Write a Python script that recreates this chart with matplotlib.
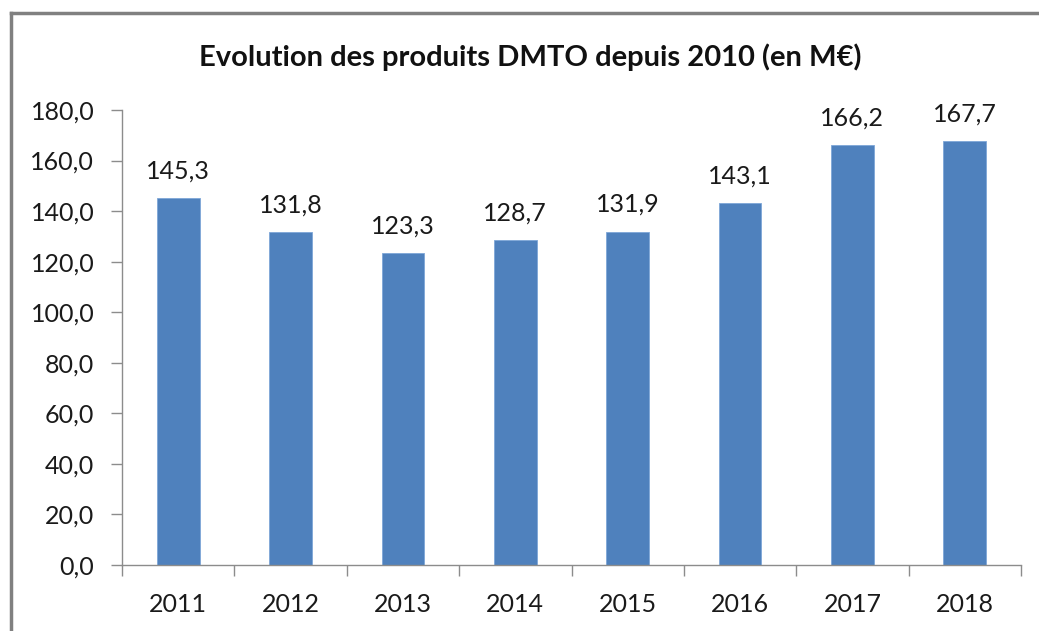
import matplotlib
matplotlib.use("Agg")
import matplotlib.pyplot as plt
from matplotlib.lines import Line2D

years = ["2011", "2012", "2013", "2014", "2015", "2016", "2017", "2018"]
values = [145.3, 131.8, 123.3, 128.7, 131.9, 143.1, 166.2, 167.7]
yticks = [0, 20, 40, 60, 80, 100, 120, 140, 160, 180]
title = "Evolution des produits DMTO depuis 2010 (en M€)"

def fr(v):
    return f"{v:.1f}".replace(".", ",")

plt.rcParams['font.family'] = ['Lato', 'DejaVu Sans']

fig = plt.figure(figsize=(10.39, 6.31), dpi=100)
ax = fig.add_axes([122/1039, 1-565/631, (1021-122)/1039, (565-110)/631])

x = list(range(len(years)))
ax.bar(x, values, width=0.38, color="#4F81BD", edgecolor="#7EA6D8", linewidth=0.6, zorder=2)

for xi, v in zip(x, values):
    ax.annotate(fr(v), (xi, v), xytext=(0, 19.5), textcoords="offset points",
                ha="center", va="center", fontsize=18, color="#1a1a1a")

ax.set_xlim(-0.5, len(years) - 0.5)
ax.set_ylim(0, 180)
ax.set_yticks(yticks)
ax.set_yticklabels([fr(t) for t in yticks], fontsize=18, color="#1a1a1a")
ax.set_xticks(x)
ax.set_xticklabels(years, fontsize=18, color="#1a1a1a")
ax.tick_params(axis="x", length=0, pad=20)
ax.set_xticks([i - 0.5 for i in range(len(years) + 1)], minor=True)
ax.tick_params(axis="x", which="minor", length=8, color="#8c8c8c", width=1)
ax.tick_params(axis="y", length=8, color="#8c8c8c", width=1, pad=12)

for s in ["top", "right"]:
    ax.spines[s].set_visible(False)
for s in ["left", "bottom"]:
    ax.spines[s].set_color("#8c8c8c")
    ax.spines[s].set_linewidth(1)

fig.text(530/1039, 1-57/631, title, ha="center", va="center", fontsize=21, fontweight="bold", color="#111111")

# outer chart border (top and left visible)
fig.add_artist(Line2D([11/1039, 1.0], [1-13/631, 1-13/631], transform=fig.transFigure, color="#808080", lw=2.5))
fig.add_artist(Line2D([11/1039, 11/1039], [0, 1-13/631], transform=fig.transFigure, color="#808080", lw=2.5))

fig.savefig("out.png", dpi=100)
